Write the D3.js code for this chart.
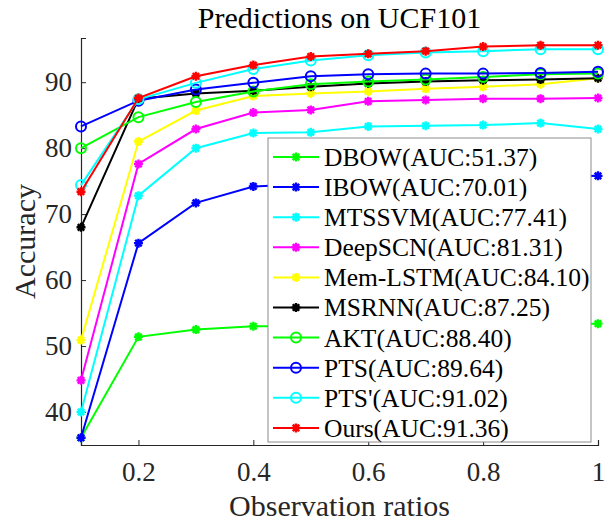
<!DOCTYPE html>
<html>
<head>
<meta charset="utf-8">
<script src="https://cdn.jsdelivr.net/npm/d3@7"></script>
<style>
  html, body { margin: 0; padding: 0; background: #fff; }
  svg text { font-family: "Liberation Serif", "Times New Roman", serif; }
</style>
</head>
<body>
<script>
// observation ratios on the x axis
const ratios = [0.1, 0.2, 0.3, 0.4, 0.5, 0.6, 0.7, 0.8, 0.9, 1.0];

// accuracy of every method
const dbow = [36.1, 51.4, 52.5, 53.0, 53.0, 53.1, 53.2, 53.3, 53.3, 53.4];
const ibow = [36.1, 65.6, 71.7, 74.2, 74.6, 74.9, 75.1, 75.4, 75.6, 75.8];
const mtssvm = [40.0, 72.8, 80.0, 82.3, 82.4, 83.3, 83.4, 83.5, 83.8, 82.9];
const deepscn = [44.8, 77.6, 82.9, 85.4, 85.8, 87.1, 87.3, 87.5, 87.5, 87.6];
const memLstm = [50.9, 81.0, 85.7, 87.9, 88.3, 88.6, 89.0, 89.3, 89.7, 90.6];
const msrnn = [68.0, 87.5, 88.3, 88.7, 89.3, 89.8, 90.1, 90.3, 90.4, 90.6];
const akt = [80.0, 84.7, 87.0, 88.6, 89.7, 90.1, 90.4, 90.8, 91.2, 91.3];
const pts = [83.3, 87.2, 88.9, 89.9, 90.9, 91.2, 91.3, 91.3, 91.4, 91.6];
const ptsPrime = [74.4, 87.4, 89.9, 92.0, 93.3, 94.1, 94.5, 94.7, 95.0, 95.0];
const ours = [73.4, 87.6, 90.9, 92.6, 93.9, 94.3, 94.7, 95.4, 95.6, 95.6];

const methodNames = ["DBOW", "IBOW", "MTSSVM", "DeepSCN", "Mem-LSTM", "MSRNN", "AKT", "PTS", "PTS'", "Ours"];
const aucValues = ["51.37", "70.01", "77.41", "81.31", "84.10", "87.25", "88.40", "89.64", "91.02", "91.36"];
const seriesValues = [dbow, ibow, mtssvm, deepscn, memLstm, msrnn, akt, pts, ptsPrime, ours];
const seriesColors = ["#00ff00", "#0000ff", "#00ffff", "#ff00ff", "#ffff00", "#000000", "#00ff00", "#0000ff", "#00ffff", "#ff0000"];
const seriesMarkers = ["star", "star", "star", "star", "star", "star", "circle", "circle", "circle", "star"];

const xTicks = [0.2, 0.4, 0.6, 0.8, 1];
const yTicks = [40, 50, 60, 70, 80, 90];

window.onload = initPage;

function initPage() {
    const svgInfo = {
        SVG_WIDTH: 614,
        SVG_HEIGHT: 523,
        LEFT: 81,
        RIGHT: 598,
        TOP: 38,
        BOTTOM: 445,
    };
    const svg = d3.select("body")
        .append("svg")
        .attr("width", svgInfo.SVG_WIDTH)
        .attr("height", svgInfo.SVG_HEIGHT);

    const x = d3.scaleLinear().domain([0.1, 1]).range([svgInfo.LEFT, svgInfo.RIGHT]);
    const y = d3.scaleLinear().domain([35, 96.7]).range([svgInfo.BOTTOM, svgInfo.TOP]);

    drawAxes(svg, x, y, svgInfo);
    drawSeries(svg, x, y);
    drawLegend(svg);
}

function starPath(r) {
    // matlab style '*' marker: plus and cross together
    const k = r * 0.72;
    return `M${-r},0H${r}M0,${-r}V${r}M${-k},${-k}L${k},${k}M${-k},${k}L${k},${-k}`;
}

function drawMarker(g, type, color) {
    if (type === "circle") {
        g.append("circle").attr("r", 5).attr("fill", "none")
            .attr("stroke", color).attr("stroke-width", 2);
    } else {
        g.append("path").attr("d", starPath(4.5)).attr("fill", "none")
            .attr("stroke", color).attr("stroke-width", 2.4);
    }
}

function drawAxes(svg, x, y, svgInfo) {
    const axisColor = "#262626";

    const xAxis = svg.append("g")
        .attr("transform", `translate(0,${svgInfo.BOTTOM})`)
        .call(d3.axisBottom(x).tickValues(xTicks).tickSize(-5).tickPadding(17)
            .tickFormat(d3.format("~g")));
    const yAxis = svg.append("g")
        .attr("transform", `translate(${svgInfo.LEFT},0)`)
        .call(d3.axisLeft(y).tickValues(yTicks).tickSize(-5).tickPadding(9));

    [xAxis, yAxis].forEach((ax) => {
        ax.select(".domain").attr("stroke", axisColor).attr("stroke-width", 1.2);
        ax.selectAll(".tick line").attr("stroke", axisColor);
        ax.selectAll(".tick text").attr("fill", axisColor)
            .style("font-size", "27px");
    });
    xAxis.selectAll(".tick text").attr("dy", "0.71em");

    svg.append("text")
        .attr("x", (svgInfo.LEFT + svgInfo.RIGHT) / 2)
        .attr("y", 28)
        .attr("text-anchor", "middle")
        .style("font-size", "30px")
        .attr("fill", "#000")
        .text("Predictions on UCF101");

    svg.append("text")
        .attr("x", (svgInfo.LEFT + svgInfo.RIGHT) / 2)
        .attr("y", 516)
        .attr("text-anchor", "middle")
        .style("font-size", "30px")
        .attr("fill", axisColor)
        .text("Observation ratios");

    svg.append("text")
        .attr("transform", `translate(35,${(svgInfo.TOP + svgInfo.BOTTOM) / 2}) rotate(-90)`)
        .attr("text-anchor", "middle")
        .style("font-size", "30px")
        .attr("fill", axisColor)
        .text("Accuracy");
}

function drawSeries(svg, x, y) {
    const line = d3.line()
        .x((d, i) => x(ratios[i]))
        .y((d) => y(d));

    seriesValues.forEach((vals, s) => {
        const g = svg.append("g");
        g.append("path")
            .datum(vals)
            .attr("d", line)
            .attr("fill", "none")
            .attr("stroke", seriesColors[s])
            .attr("stroke-width", 2);
        vals.forEach((v, i) => {
            const m = g.append("g").attr("transform", `translate(${x(ratios[i])},${y(v)})`);
            drawMarker(m, seriesMarkers[s], seriesColors[s]);
        });
    });
}

function drawLegend(svg) {
    const legend = svg.append("g");
    legend.append("rect")
        .attr("x", 268).attr("y", 138)
        .attr("width", 323).attr("height", 304)
        .attr("fill", "#fff")
        .attr("stroke", "#8c8c8c")
        .attr("stroke-width", 1);

    methodNames.forEach((name, i) => {
        const cy = 157 + i * 30.1;
        const row = legend.append("g").attr("transform", `translate(0,${cy})`);
        row.append("line")
            .attr("x1", 273).attr("x2", 319)
            .attr("stroke", seriesColors[i]).attr("stroke-width", 2);
        const m = row.append("g").attr("transform", "translate(296,0)");
        drawMarker(m, seriesMarkers[i], seriesColors[i]);
        row.append("text")
            .attr("x", 324)
            .attr("dy", "0.35em")
            .style("font-size", "25.5px")
            .attr("fill", "#000")
            .text(`${name}(AUC:${aucValues[i]})`);
    });
}
</script>
</body>
</html>
